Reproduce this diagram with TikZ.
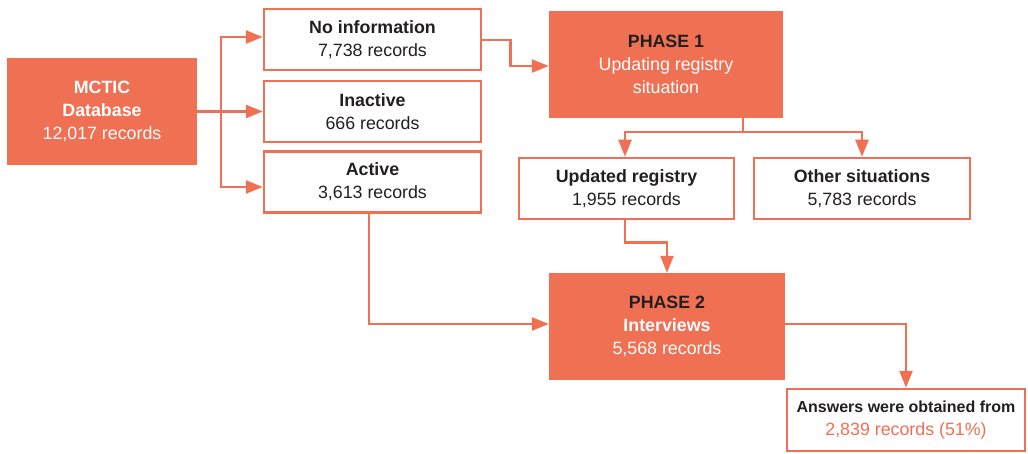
\documentclass[tikz,border=0pt]{standalone}
\usepackage{fontspec}
\setmainfont{Liberation Sans}
\usetikzlibrary{arrows.meta}
\definecolor{orangeF}{RGB}{240,112,84}
\definecolor{darkT}{RGB}{35,31,32}
\newcommand{\bx}[2]{{\bfseries #1}\\#2}

\begin{document}
\begin{tikzpicture}[x=1pt,y=-1pt,
    fillbox/.style={fill=orangeF,text=white,align=center,inner sep=0pt,
      font=\fontsize{17.8}{23}\selectfont},
    linebox/.style={draw=orangeF,line width=2.5pt,fill=white,text=darkT,
      align=center,inner sep=0pt,font=\fontsize{17.8}{23}\selectfont},
    conn/.style={draw=orangeF,line width=2.5pt,
      -{Triangle[length=17pt,width=13pt]}}]
    \useasboundingbox (0,0) rectangle (1028,454);
    % left column
    \node[fillbox,minimum width=190pt,minimum height=107pt] (mctic) at (102,111.5)
    {\bfseries MCTIC\\\bfseries Database\\12,017 records};
    \node[linebox,minimum width=217pt,minimum height=61pt] (noinfo) at (372.5,39.5)
    {\bx{No information}{7,738 records}};
    \node[linebox,minimum width=217pt,minimum height=61pt] (inact) at (372.5,111.5)
    {\bx{Inactive}{666 records}};
    \node[linebox,minimum width=217pt,minimum height=61pt] (act) at (372.5,182)
    {\bx{Active}{3,613 records}};
    % phase 1
    \node[fillbox,minimum width=234pt,minimum height=107pt] (ph1) at (666,64.5)
    {\textcolor{darkT}{\bfseries PHASE 1}\\Updating registry\\situation};
    \node[linebox,minimum width=215pt,minimum height=61pt] (upd) at (626.5,188.5)
    {\bx{Updated registry}{1,955 records}};
    \node[linebox,minimum width=216pt,minimum height=61pt] (other) at (862,188.5)
    {\bx{Other situations}{5,783 records}};
    % phase 2
    \node[fillbox,minimum width=236pt,minimum height=107pt] (ph2) at (667,326.5)
    {\textcolor{darkT}{\bfseries PHASE 2}\\\bfseries Interviews\\5,568 records};
    \node[linebox,minimum width=238pt,minimum height=62pt] (answ) at (906,420)
    {{\fontsize{16}{23}\selectfont\bfseries Answers were obtained from}\\
     \textcolor{orangeF}{2,839 records (51\%)}};
    \coordinate (split) at (221,111.5);
    % connectors
    \draw[conn] (mctic.east) -- (inact.west);
    \draw[conn] (split) |- ([yshift=2.5pt]noinfo.west);
    \draw[conn] (split) |- ([yshift=-5pt]act.west);
    \draw[conn] ([yshift=-0.5pt]noinfo.east) -- ++(28,0) |- ([yshift=-1.5pt]ph1.west);
    \draw[conn] ([xshift=77pt]ph1.south) -- ++(0,14) -| ([xshift=-1.5pt]upd.north);
    \draw[conn] ([xshift=77pt]ph1.south) -- ++(0,14) -| (other.north);
    \draw[conn] ([xshift=-1.5pt]upd.south) -- ++(0,22.5) -| (ph2.north);
    \draw[conn] ([xshift=-3.5pt]act.south) |- ([yshift=2.5pt]ph2.west);
    \draw[conn] ([yshift=2.5pt]ph2.east) -| (answ.north);
\end{tikzpicture}
\end{document}
